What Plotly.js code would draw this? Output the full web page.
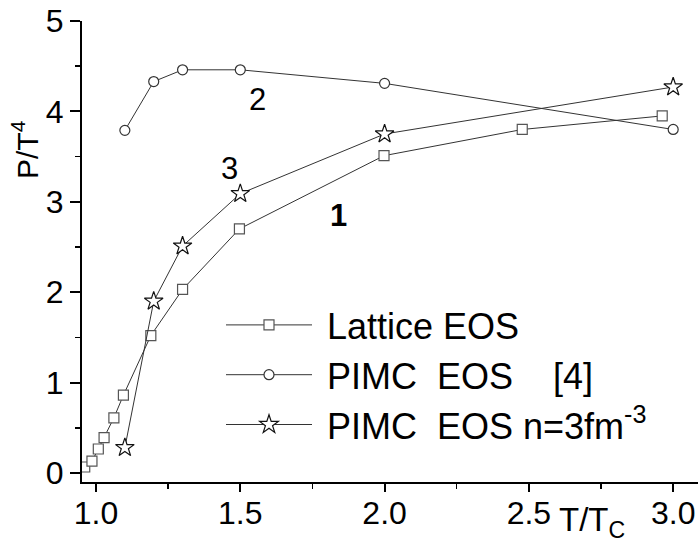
<!DOCTYPE html>
<html>
<head>
<meta charset="utf-8">
<script src="https://cdn.plot.ly/plotly-3.0.1.min.js"></script>
<style>html,body{margin:0;padding:0;background:#fff;}#chart{width:698px;height:548px;}</style>
</head>
<body>
<div id="chart"></div>
<script>
// Lattice EOS (squares)
const latticeT = [0.961, 0.986, 1.008, 1.028, 1.062, 1.095, 1.19, 1.30, 1.497, 1.998, 2.477, 2.962];
const latticeP = [0.066, 0.13, 0.265, 0.39, 0.61, 0.86, 1.52, 2.03, 2.70, 3.51, 3.80, 3.95];
// PIMC EOS [4] (circles)
const pimcT = [1.10, 1.20, 1.30, 1.50, 2.00, 3.00];
const pimcP = [3.79, 4.33, 4.46, 4.46, 4.31, 3.80];
// PIMC EOS n=3fm^-3 (stars)
const pimc3T = [1.10, 1.20, 1.30, 1.50, 2.00, 3.00];
const pimc3P = [0.28, 1.90, 2.51, 3.09, 3.75, 4.27];

const names = ['\u00a0Lattice EOS', '\u00a0PIMC\u00a0\u00a0EOS\u00a0\u00a0\u00a0\u00a0[4]', '\u00a0PIMC\u00a0\u00a0EOS n=3fm<sup>-3</sup>'];
const xTicks = [1.0, 1.5, 2.0, 2.5, 3.0];
const xTickText = ['1.0', '1.5', '2.0', '2.5', '3.0'];
const yTicks = [0, 1, 2, 3, 4, 5];

const FONT = 'Liberation Sans, Arial, sans-serif';
const lineStyle = {color: '#333', width: 1};

const traces = [
  {x: latticeT, y: latticeP, name: names[0], mode: 'lines+markers', line: lineStyle,
   marker: {symbol: 'square', size: 10, color: '#fff', line: {color: '#555', width: 1.2}}},
  {x: pimcT, y: pimcP, name: names[1], mode: 'lines+markers', line: lineStyle,
   marker: {symbol: 'circle', size: 10, color: '#fff', line: {color: '#333', width: 1.2}}},
  {x: pimc3T, y: pimc3P, name: names[2], mode: 'lines+markers', line: lineStyle,
   marker: {symbol: 'star', size: 14, color: '#fff', line: {color: '#111', width: 1.2}}}
];

const xr = [0.9515, 3.086];
const yr = [-0.1, 5.0];
const pw = 698 - 82 - 0, ph = 548 - 21 - 66;

const layout = {
  width: 698, height: 548,
  margin: {l: 82, r: 0, t: 21, b: 66},
  paper_bgcolor: '#fff', plot_bgcolor: '#fff',
  font: {family: FONT, color: '#000', size: 30},
  showlegend: true,
  legend: {x: (221 - 82) / pw, y: (482 - 295) / ph, xanchor: 'left', yanchor: 'top', bgcolor: 'rgba(0,0,0,0)',
           font: {family: FONT, size: 36, color: '#000'}, itemwidth: 86, tracegroupgap: 0},
  xaxis: {range: xr, tickvals: xTicks, ticktext: xTickText, ticks: 'outside', ticklen: 8, tickwidth: 2,
          tickcolor: '#000', showline: true, linewidth: 2, linecolor: '#000', showgrid: false, zeroline: false,
          tickfont: {family: FONT, size: 32, color: '#000'}, ticklabelstandoff: -6,
          minor: {dtick: 0.25, ticks: 'outside', ticklen: 5, tickwidth: 1.5, tickcolor: '#000', showgrid: false}},
  xaxis2: {range: xr, overlaying: 'x', side: 'top', anchor: 'y', tickvals: xTicks, ticks: 'inside', ticklen: 8, tickwidth: 2,
           tickcolor: '#000', showline: true, linewidth: 2, linecolor: '#000', showgrid: false, zeroline: false,
           showticklabels: false,
           minor: {dtick: 0.25, ticks: 'inside', ticklen: 4, tickwidth: 1.5, tickcolor: '#000', showgrid: false}},
  yaxis: {range: yr, tickvals: yTicks, ticks: 'outside', ticklen: 10, tickwidth: 2, tickcolor: '#000',
          showline: true, linewidth: 2, linecolor: '#000', showgrid: false, zeroline: false,
          tickfont: {family: FONT, size: 32, color: '#000'},
          minor: {dtick: 0.5, ticks: 'outside', ticklen: 5, tickwidth: 1.5, tickcolor: '#000', showgrid: false}},
  yaxis2: {range: yr, overlaying: 'y', side: 'right', anchor: 'x', tickvals: yTicks, ticks: 'inside', ticklen: 6, tickwidth: 2,
           tickcolor: '#000', showline: false, showgrid: false, zeroline: false, showticklabels: false,
           minor: {dtick: 0.5, ticks: 'inside', ticklen: 3, tickwidth: 1.5, tickcolor: '#000', showgrid: false}},
  annotations: [
    {x: 1.561, y: 4.13, xref: 'x', yref: 'y', text: '2', showarrow: false, font: {family: FONT, size: 31}},
    {x: 1.464, y: 3.37, xref: 'x', yref: 'y', text: '3', showarrow: false, font: {family: FONT, size: 31}},
    {x: 1.839, y: 2.85, xref: 'x', yref: 'y', text: '<b>1</b>', showarrow: false, font: {family: FONT, size: 31}},
    {x: (25 - 82) / pw, y: (482 - 150) / ph, xref: 'paper', yref: 'paper', xanchor: 'center', yanchor: 'middle',
     text: 'P/T<sup>4</sup>', showarrow: false, textangle: -90, font: {family: FONT, size: 30}},
    {x: (592 - 82) / pw, y: (482 - 522) / ph, xref: 'paper', yref: 'paper', xanchor: 'center', yanchor: 'middle',
     text: 'T/T<sub>C</sub>', showarrow: false, font: {family: FONT, size: 33}}
  ]
};

Plotly.newPlot('chart', traces, layout, {staticPlot: true, displayModeBar: false});
</script>
</body>
</html>
